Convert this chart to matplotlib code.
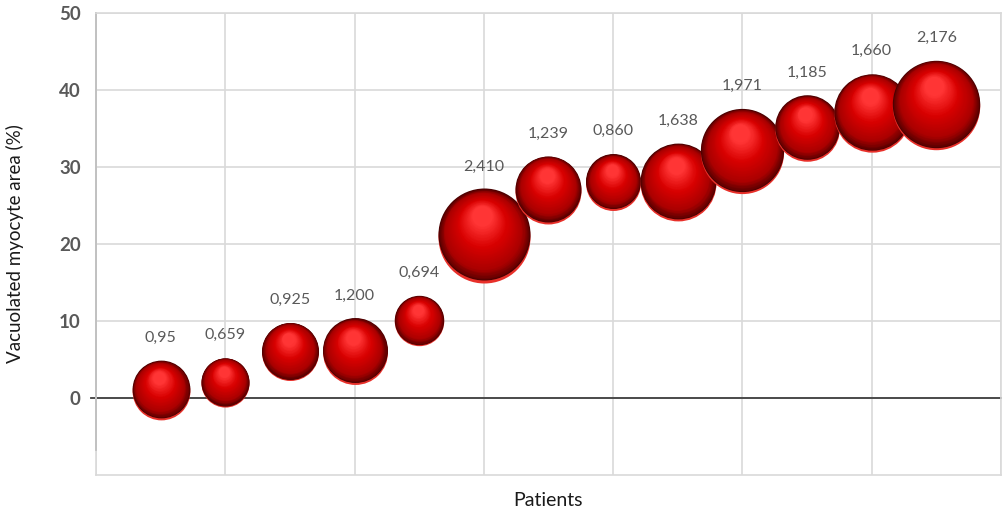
import matplotlib.pyplot as plt
import matplotlib.transforms as mtransforms
import numpy as np
from matplotlib.colors import to_rgb

# Data
patients = [1, 2, 3, 4, 5, 6, 7, 8, 9, 10, 11, 12, 13]
vacuolated = [1, 2, 6, 6, 10, 21, 27, 28, 28, 32, 35, 37, 38]
bubble_size = [0.95, 0.659, 0.925, 1.200, 0.694, 2.410, 1.239, 0.860, 1.638, 1.971, 1.185, 1.660, 2.176]
bubble_labels = ['0,95', '0,659', '0,925', '1,200', '0,694', '2,410', '1,239',
                 '0,860', '1,638', '1,971', '1,185', '1,660', '2,176']

plt.rcParams['font.family'] = ['Lato', 'DejaVu Sans']

fig = plt.figure(figsize=(10.03, 5.15), dpi=100)
ax = fig.add_axes([0.0957, 0.0777, 0.9023, 0.8971])
ax.set_xlim(0, 14)
ax.set_ylim(-10, 50)

# grid
grid_col = '#d9d9d9'
ax.set_xticks(np.arange(0, 15, 2))
ax.set_xticklabels([])
ax.xaxis.grid(True, color=grid_col, linewidth=1.2)
ax.set_axisbelow(True)
for s in ax.spines.values():
    s.set_color(grid_col)
    s.set_linewidth(1.2)
ax.tick_params(length=0)
ax.set_yticks([0, 10, 20, 30, 40, 50])
ax.set_yticklabels(['0', '10', '20', '30', '40', '50'], fontsize=13.5,
                   fontweight='bold', color='#595959')
ax.tick_params(axis='y', pad=11)
ax.yaxis.grid(True, color=grid_col, linewidth=1.2)

# axis lines
ax.axhline(0, xmin=-0.006, xmax=1, color='#3f3f3f', linewidth=1.3, clip_on=False, zorder=1)
ax.plot([0, 0], [-6.8, 50], color='#3f3f3f', linewidth=1.3, clip_on=False, zorder=1)

ax.set_xlabel('Patients', fontsize=14, color='#1a1a1a', labelpad=9)
ax.set_ylabel('Vacuolated myocyte area (%)', fontsize=13.5, color='#1a1a1a', labelpad=25)

# bubble diameters (points), area proportional to size
max_d_pt = 92 * 72 / 100
diam = [max_d_pt * np.sqrt(v / max(bubble_size)) for v in bubble_size]


def mix(c1, c2, t):
    a = np.array(to_rgb(c1))
    b = np.array(to_rgb(c2))
    return tuple(a + (b - a) * t)


def body_colour(t):
    stops = [(0.0, '#600000'), (0.18, '#aa0000'), (0.6, '#d80000'), (1.0, '#ff3535')]
    for (t0, c0), (t1, c1) in zip(stops[:-1], stops[1:]):
        if t <= t1:
            return mix(c0, c1, (t - t0) / (t1 - t0))
    return to_rgb(stops[-1][1])


def shifted(dx, dy):
    return ax.transData + mtransforms.ScaledTranslation(dx / 72, dy / 72, fig.dpi_scale_trans)


n_layers = 45
for x, y, d, lab in zip(patients, vacuolated, diam, bubble_labels):
    r = d / 2
    # bright bottom rim
    ax.scatter([x], [y], s=(2 * r) ** 2, color='#e8302a', linewidths=0, zorder=3,
               transform=shifted(0, -0.02 * r), clip_on=False)
    ax.scatter([x], [y], s=(2 * r) ** 2, color='#4a0000', linewidths=0, zorder=3,
               transform=shifted(0, 0.04 * r), clip_on=False)
    for t in np.linspace(0, 1, n_layers):
        rr = r * (0.98 - 0.76 * t)
        dy = 0.04 * r + 0.4 * r * t
        dx = -0.05 * r * t
        ax.scatter([x], [y], s=(2 * rr) ** 2, color=body_colour(t), linewidths=0, zorder=3,
                   transform=shifted(dx, dy), clip_on=False)
    ax.annotate(lab, xy=(x, y), xytext=(0, r + 17), textcoords='offset points',
                ha='center', va='center', fontsize=11.5, color='#595959', zorder=4)

fig.savefig('out.png', dpi=100)
